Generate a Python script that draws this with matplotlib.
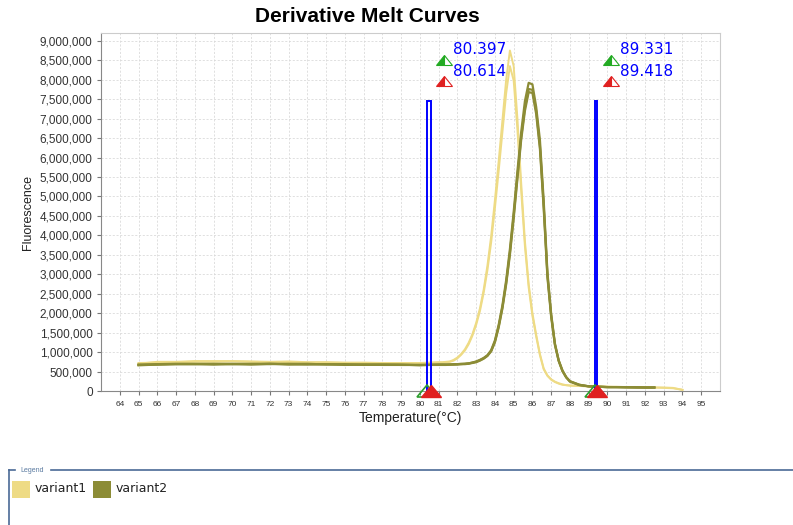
import matplotlib
matplotlib.use("Agg")
import matplotlib.pyplot as plt
import numpy as np
from matplotlib.lines import Line2D
from matplotlib.markers import MarkerStyle
from matplotlib.patches import Rectangle
from matplotlib.ticker import FuncFormatter, MultipleLocator
from matplotlib.transforms import Affine2D

# temperature grid of the readings (deg C)
temps_base = [65, 66, 67, 68, 69, 70, 71, 72, 73, 74, 75, 76, 77, 78, 79, 80, 81]
temps_peak = [81.2, 81.4, 81.6, 81.8, 82.0, 82.2, 82.4, 82.6, 82.8, 83.0,
              83.2, 83.4, 83.6, 83.8, 84.0, 84.2, 84.4, 84.6, 84.8, 85.0,
              85.2, 85.4, 85.6, 85.8, 86.0, 86.2, 86.4, 86.6, 86.8, 87.0,
              87.2, 87.4, 87.6, 87.8, 88.0]
temps_tail = [88.5, 89.0, 89.5, 90.0, 90.5, 91.0, 91.5, 92.0, 92.5, 93.0, 93.5, 94.0]

nan = float("nan")

# -dF/dT in millions, one list per replicate (base + peak + tail)
variant1 = [
    [0.70, 0.75, 0.75, 0.77, 0.77, 0.77, 0.76, 0.75, 0.76, 0.74, 0.74, 0.73, 0.73, 0.72, 0.72, 0.72, 0.74]
    + [0.74, 0.75, 0.76, 0.80, 0.86, 0.95, 1.07, 1.24, 1.46, 1.75, 2.12, 2.60, 3.22, 3.98, 4.90, 5.90, 6.95,
       8.00, 8.75, 8.35, 7.00, 5.35, 3.85, 2.75, 2.00, 1.45, 0.95, 0.58, 0.40, 0.30, 0.24, 0.20, 0.17, 0.15, 0.14]
    + [0.13, 0.12, 0.12, 0.11, 0.11, 0.10, 0.10, 0.10, 0.09, 0.09, 0.08, 0.03],
    [0.72, 0.73, 0.74, 0.75, 0.75, 0.76, 0.75, 0.74, 0.74, 0.73, 0.73, 0.72, 0.72, 0.71, 0.71, 0.71, 0.73]
    + [0.73, 0.74, 0.75, 0.78, 0.84, 0.93, 1.04, 1.20, 1.42, 1.70, 2.05, 2.52, 3.10, 3.82, 4.70, 5.65, 6.65,
       7.65, 8.35, 7.98, 6.72, 5.15, 3.72, 2.66, 1.93, 1.40, 0.92, 0.56, 0.39, 0.29, 0.23, 0.19, 0.16, 0.15, 0.14]
    + [0.13, 0.12, 0.11, 0.11, 0.10, 0.10, 0.10, 0.09, 0.09, 0.08, 0.07, 0.03],
]
variant2 = [
    [0.67, 0.69, 0.70, 0.70, 0.69, 0.70, 0.69, 0.69, 0.70, 0.69, 0.69, 0.68, 0.68, 0.68, 0.67, 0.67, 0.68]
    + [0.68, 0.68, 0.68, 0.68, 0.69, 0.69, 0.70, 0.71, 0.73, 0.76, 0.80, 0.85, 0.92, 1.05, 1.30, 1.70, 2.20,
       2.85, 3.65, 4.60, 5.65, 6.65, 7.45, 7.92, 7.88, 7.30, 6.45, 4.90, 3.05, 1.98, 1.22, 0.79, 0.53, 0.36, 0.25]
    + [0.16, 0.12, 0.11, 0.10, 0.10, 0.10, 0.10, 0.09, 0.09, nan, nan, nan],
    [0.68, 0.68, 0.69, 0.69, 0.70, 0.69, 0.70, 0.70, 0.69, 0.70, 0.68, 0.69, 0.67, 0.68, 0.68, 0.66, 0.68]
    + [0.68, 0.68, 0.68, 0.69, 0.69, 0.70, 0.70, 0.71, 0.73, 0.75, 0.79, 0.84, 0.91, 1.03, 1.27, 1.66, 2.15,
       2.78, 3.56, 4.50, 5.52, 6.52, 7.28, 7.76, 7.74, 7.20, 6.30, 4.78, 2.98, 1.94, 1.20, 0.78, 0.52, 0.35, 0.25]
    + [0.16, 0.12, 0.11, 0.10, 0.10, 0.10, 0.09, 0.09, 0.09, nan, nan, nan],
    [0.66, 0.68, 0.69, 0.69, 0.68, 0.69, 0.68, 0.70, 0.68, 0.68, 0.69, 0.67, 0.68, 0.67, 0.67, 0.67, 0.67]
    + [0.67, 0.67, 0.68, 0.68, 0.68, 0.69, 0.69, 0.70, 0.72, 0.74, 0.78, 0.83, 0.90, 1.02, 1.25, 1.63, 2.12,
       2.74, 3.50, 4.43, 5.45, 6.45, 7.20, 7.68, 7.66, 7.12, 6.22, 4.70, 2.92, 1.90, 1.18, 0.77, 0.51, 0.35, 0.24]
    + [0.15, 0.12, 0.11, 0.10, 0.10, 0.09, 0.09, 0.09, 0.09, nan, nan, nan],
]

# melt markers: (start, end) pairs in deg C
marker_pairs = [(80.397, 80.614), (89.331, 89.418)]
marker_top = 7.45e6

series_names = ["variant1", "variant2"]
series_colors = ["#EEDB85", "#8C8C36"]

plt.rcParams["font.family"] = ["Liberation Sans", "DejaVu Sans"]

fig = plt.figure(figsize=(7.93, 5.25), dpi=100)
ax = fig.add_axes([101 / 793, 134 / 525, 619 / 793, 358 / 525])

temps = np.array(temps_base + temps_peak + temps_tail)
for reps, color, lw in [(variant1, series_colors[0], 1.4), (variant2, series_colors[1], 1.6)]:
    for vals in reps:
        ax.plot(temps, np.array(vals) * 1e6, color=color, lw=lw, solid_joinstyle="round")

# flattened triangles like the instrument software
flat = Affine2D().scale(1.35, 0.8)
tri_full = MarkerStyle("^", transform=flat)
tri_half = MarkerStyle("^", fillstyle="left", transform=flat)

# blue marker lines
for a, b in marker_pairs:
    ax.plot([a, a, b, b], [0, marker_top, marker_top, 0], color="#0000FF", lw=1.4,
            solid_joinstyle="miter")
    ax.plot([a], [0], marker=tri_full, ms=11, color="#2E9E2E", mfc="none", mew=1.2,
            clip_on=False, zorder=5)
    ax.plot([b], [0], marker=tri_full, ms=11, color="#E02020", mec="#E02020",
            clip_on=False, zorder=6)

# marker value labels
label_x = [81.3, 90.2]
for (a, b), lx in zip(marker_pairs, label_x):
    ax.plot([lx], [8.5e6], marker=tri_half, ms=9, color="#22AA22",
            markerfacecoloralt="white", mec="#22AA22", mew=0.8)
    ax.plot([lx], [7.97e6], marker=tri_half, ms=9, color="#E02020",
            markerfacecoloralt="white", mec="#E02020", mew=0.8)
    ax.text(lx + 0.45, 8.77e6, f"{a:.3f}", color="#0000FF", fontsize=11,
            family="DejaVu Sans", va="center", ha="left")
    ax.text(lx + 0.45, 8.2e6, f"{b:.3f}", color="#0000FF", fontsize=11,
            family="DejaVu Sans", va="center", ha="left")

ax.set_xlim(63, 96)
ax.set_ylim(0, 9.2e6)
ax.set_xticks(range(64, 96))
ax.yaxis.set_major_locator(MultipleLocator(500000))
ax.yaxis.set_major_formatter(FuncFormatter(lambda v, p: f"{v:,.0f}"))
ax.grid(True, color="#DADADA", lw=0.6, ls=(0, (2.5, 2)))
ax.set_axisbelow(True)
ax.tick_params(axis="x", labelsize=6, colors="#777777", labelcolor="#333333", length=3, pad=4)
ax.tick_params(axis="y", labelsize=8.5, colors="#777777", labelcolor="#333333", length=3, pad=3)
for s in ["top", "right"]:
    ax.spines[s].set_color("#CCCCCC")
for s in ["left", "bottom"]:
    ax.spines[s].set_color("#888888")

fig.text(367 / 793, 1 - 17 / 525, "Derivative Melt Curves", ha="center", va="center",
         fontsize=15, fontweight="bold")
fig.text(410 / 793, 1 - 418 / 525, "Temperature(°C)", ha="center", va="center", fontsize=10,
         color="#222222")
fig.text(28 / 793, 1 - 212 / 525, "Fluorescence", ha="center", va="center", rotation=90,
         fontsize=9, color="#222222")

# legend frame at the bottom
frame_c = "#4A6A96"
fig.add_artist(Line2D([9 / 793, 9 / 793], [1 - 470 / 525, 0], color=frame_c, lw=1.2))
fig.add_artist(Line2D([9 / 793, 15 / 793], [1 - 470 / 525] * 2, color=frame_c, lw=1.2))
fig.add_artist(Line2D([51 / 793, 1], [1 - 470 / 525] * 2, color=frame_c, lw=1.2))
fig.text(20 / 793, 1 - 470 / 525, "Legend", fontsize=5, color="#5A7AA0", va="center", ha="left")

legend_x = [12, 93]
for name, color, lx in zip(series_names, series_colors, legend_x):
    fig.add_artist(Rectangle((lx / 793, 1 - 498 / 525), 18 / 793, 17 / 525,
                             facecolor=color, edgecolor="none"))
    fig.text((lx + 23) / 793, 1 - 489 / 525, name, fontsize=9, va="center", ha="left",
             color="#222222", family="DejaVu Sans")

fig.savefig("out.png", dpi=100)
